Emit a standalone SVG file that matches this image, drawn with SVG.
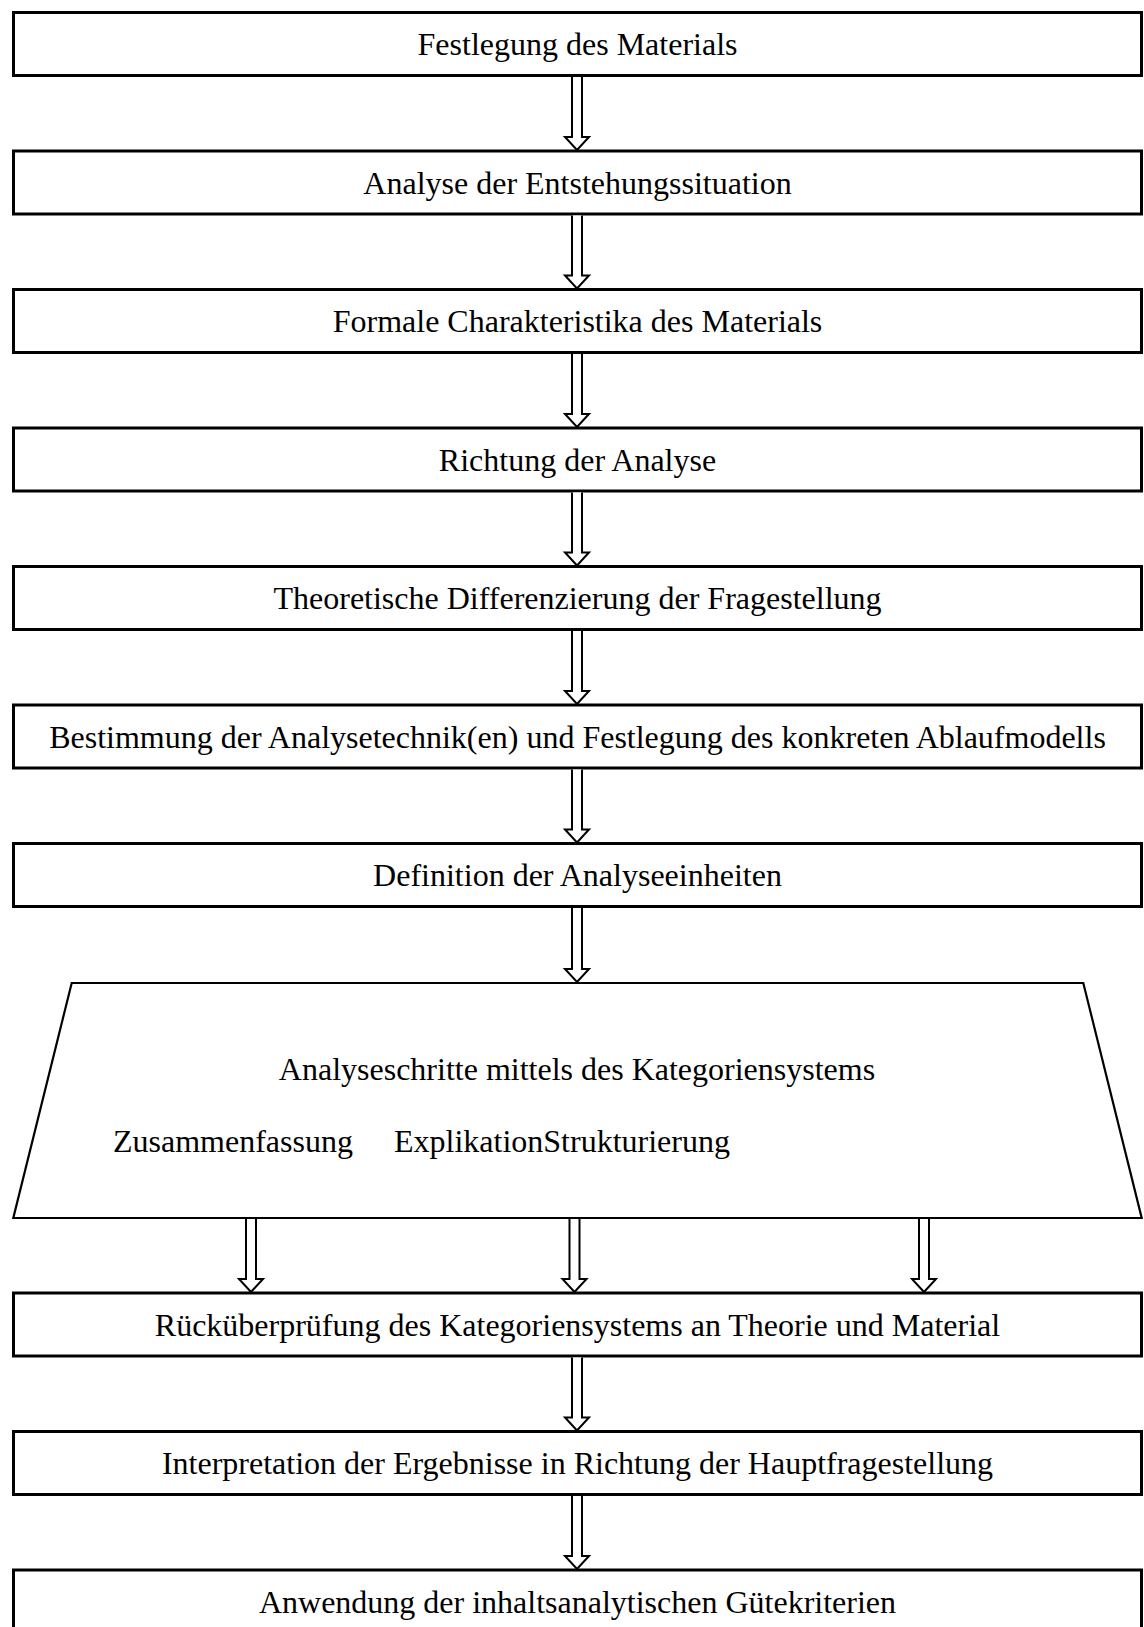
<svg xmlns="http://www.w3.org/2000/svg" width="1144" height="1627" viewBox="0 0 1144 1627">
<style>
.box{fill:#fff;stroke:#000;stroke-width:3}
.trap{fill:#fff;stroke:#000;stroke-width:2.2;stroke-linejoin:miter}
.arr{fill:#fff;stroke:#000;stroke-width:2}
text{font-family:"Liberation Serif","Times New Roman",serif;font-size:32px;fill:#000}
.c{text-anchor:middle}
</style>
<rect width="1144" height="1627" fill="#fff"/>
<g id="nodes">
<g id="n1"><rect class="box" x="13.5" y="12.5" width="1128" height="63"/><text class="c" x="577.5" y="55">Festlegung des Materials</text></g>
<g id="n2"><rect class="box" x="13.5" y="151" width="1128" height="63"/><text class="c" x="577.5" y="193.5">Analyse der Entstehungssituation</text></g>
<g id="n3"><rect class="box" x="13.5" y="289.5" width="1128" height="63"/><text class="c" x="577.5" y="332">Formale Charakteristika des Materials</text></g>
<g id="n4"><rect class="box" x="13.5" y="428" width="1128" height="63"/><text class="c" x="577.5" y="470.5">Richtung der Analyse</text></g>
<g id="n5"><rect class="box" x="13.5" y="566.5" width="1128" height="63"/><text class="c" x="577.5" y="609">Theoretische Differenzierung der Fragestellung</text></g>
<g id="n6"><rect class="box" x="13.5" y="705" width="1128" height="63"/><text class="c" x="577.5" y="747.5">Bestimmung der Analysetechnik(en) und Festlegung des konkreten Ablaufmodells</text></g>
<g id="n7"><rect class="box" x="13.5" y="843.5" width="1128" height="63"/><text class="c" x="577.5" y="886">Definition der Analyseeinheiten</text></g>
<g id="n8"><polygon class="trap" points="71.7,983 1083.3,983 1141.7,1218 13.3,1218"/><text class="c" x="577" y="1080">Analyseschritte mittels des Kategoriensystems</text><text><tspan x="113" y="1152">Zusammenfassung</tspan><tspan x="394" y="1152">ExplikationStrukturierung</tspan></text></g>
<g id="n9"><rect class="box" x="13.5" y="1293" width="1128" height="63"/><text class="c" x="577.5" y="1335.5">Rücküberprüfung des Kategoriensystems an Theorie und Material</text></g>
<g id="n10"><rect class="box" x="13.5" y="1431.5" width="1128" height="63"/><text class="c" x="577.5" y="1474">Interpretation der Ergebnisse in Richtung der Hauptfragestellung</text></g>
<g id="n11"><rect class="box" x="13.5" y="1570" width="1128" height="63"/><text class="c" x="577.5" y="1612.5">Anwendung der inhaltsanalytischen Gütekriterien</text></g>
</g>
<g id="connectors">
<path class="arr" d="M572,77 V137 H565 L577,150 L589,137 H582 V77"/>
<path class="arr" d="M572,215.5 V275.5 H565 L577,288.5 L589,275.5 H582 V215.5"/>
<path class="arr" d="M572,354 V414 H565 L577,427 L589,414 H582 V354"/>
<path class="arr" d="M572,492.5 V552.5 H565 L577,565.5 L589,552.5 H582 V492.5"/>
<path class="arr" d="M572,631 V691 H565 L577,704 L589,691 H582 V631"/>
<path class="arr" d="M572,769.5 V829.5 H565 L577,842.5 L589,829.5 H582 V769.5"/>
<path class="arr" d="M572,908 V969 H565 L577,982 L589,969 H582 V908"/>
<path class="arr" d="M246,1219 V1279 H239 L251,1292 L263,1279 H256 V1219"/>
<path class="arr" d="M569.5,1219 V1279 H562.5 L574.5,1292 L586.5,1279 H579.5 V1219"/>
<path class="arr" d="M919,1219 V1279 H912 L924,1292 L936,1279 H929 V1219"/>
<path class="arr" d="M572,1357.5 V1417.5 H565 L577,1430.5 L589,1417.5 H582 V1357.5"/>
<path class="arr" d="M572,1496 V1556 H565 L577,1569 L589,1556 H582 V1496"/>
</g>
</svg>
